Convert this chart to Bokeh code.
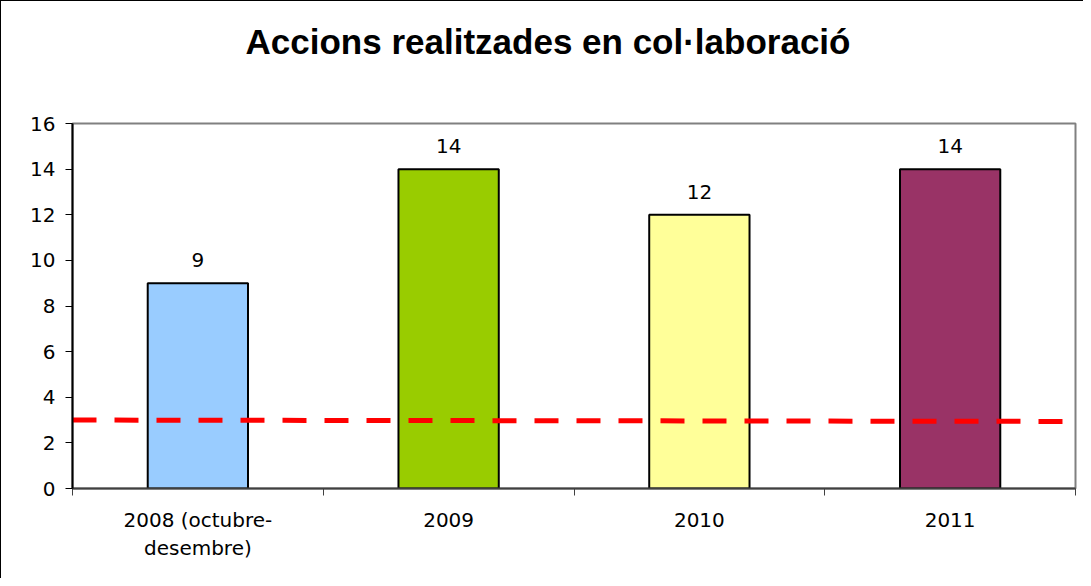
from bokeh.plotting import figure
from bokeh.models import FixedTicker, Range1d, ColumnDataSource, Div
from bokeh.layouts import column
from bokeh.core.properties import value
from bokeh.embed import file_html
from bokeh.resources import INLINE

title = "Accions realitzades en col·laboració"
categories = ["2008 (octubre-\ndesembre)", "2009", "2010", "2011"]
values = [9, 14, 12, 14]
colors = ["#99CCFF", "#99CC00", "#FFFF99", "#993366"]
threshold = [3.0, 2.94]
y_ticks = [0, 2, 4, 6, 8, 10, 12, 14, 16]

n = len(categories)
xs = [i + 0.5 for i in range(n)]

head = Div(text=title, width=1082, height=82, margin=0,
           styles={"font-family": "Liberation Sans", "font-size": "35px", "font-weight": "bold",
                   "color": "black", "line-height": "82px", "text-align": "center",
                   "padding-left": "12px", "box-sizing": "border-box"})

p = figure(width=1082, height=495, output_backend="svg", toolbar_location=None,
           x_range=Range1d(0, n), y_range=Range1d(0, 16),
           min_border_left=71, min_border_right=8, min_border_top=40, min_border_bottom=90)

p.grid.visible = False
p.outline_line_color = "#808080"
p.outline_line_width = 2

src = ColumnDataSource(dict(x=xs, top=values, color=colors, label=[str(v) for v in values]))
p.vbar(x="x", top="top", width=0.4, fill_color="color", line_color="black", line_width=2, source=src)
p.text(x="x", y="top", text="label", source=src, text_align="center", text_baseline="middle",
       y_offset=-23, text_font=value("DejaVu Sans"), text_font_size="20px", text_color="black")

p.line(x=[0, n], y=threshold, line_color="#FF0000", line_width=5, line_dash="24 18")

# y axis
p.yaxis.ticker = FixedTicker(ticks=y_ticks)
p.yaxis.axis_line_color = "black"
p.yaxis.axis_line_width = 2
p.yaxis.major_tick_out = 7
p.yaxis.major_tick_in = 0
p.yaxis.minor_tick_line_color = None
p.yaxis.major_label_text_font = "DejaVu Sans"
p.yaxis.major_label_text_font_size = "20px"
p.yaxis.major_label_text_color = "black"
p.yaxis.major_label_standoff = 10

# x axis
p.xaxis.ticker = FixedTicker(ticks=xs, minor_ticks=list(range(n + 1)))
p.xaxis.major_label_overrides = {x: c for x, c in zip(xs, categories)}
p.xaxis.axis_line_color = "#404040"
p.xaxis.axis_line_width = 2
p.xaxis.major_tick_line_color = None
p.xaxis.minor_tick_out = 7
p.xaxis.minor_tick_in = 0
p.xaxis.minor_tick_line_color = "#404040"
p.xaxis.major_label_text_font = "DejaVu Sans"
p.xaxis.major_label_text_font_size = "20px"
p.xaxis.major_label_text_color = "black"
p.xaxis.major_label_standoff = 12

layout = column(head, p, spacing=0,
                styles={"border-top": "1px solid black", "border-left": "1px solid black"})

open("out.html", "w").write(file_html(layout, INLINE))
